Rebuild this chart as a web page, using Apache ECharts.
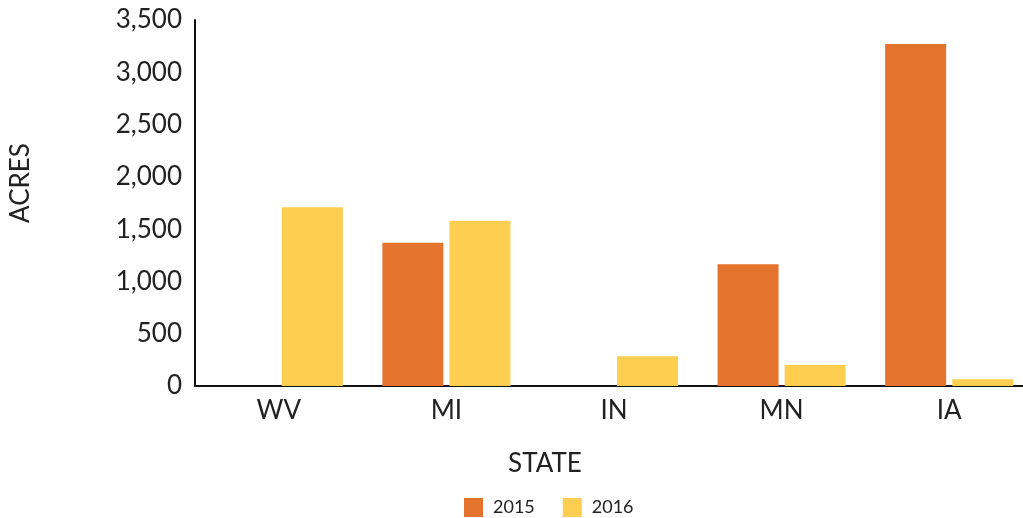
<!DOCTYPE html>
<html>
<head>
<meta charset="utf-8">
<script src="https://cdn.jsdelivr.net/npm/echarts@6/dist/echarts.min.js"></script>
<style>html,body{margin:0;padding:0;background:#fff;}#c{width:1023px;height:518px;}</style>
</head>
<body>
<div id="c"></div>
<script>
const categories = ['WV', 'MI', 'IN', 'MN', 'IA'];
const seriesNames = ['2015', '2016'];
const values2015 = [null, 1370, null, 1165, 3270];
const values2016 = [1710, 1580, 285, 200, 65];
const yTicks = { min: 0, max: 3500, interval: 500 };
const xAxisTitle = 'STATE';
const yAxisTitle = 'ACRES';

const chart = echarts.init(document.getElementById('c'));
const font = 'Lato, "Open Sans", sans-serif';
chart.setOption({
  animation: false,
  backgroundColor: '#fff',
  textStyle: { fontFamily: font },
  grid: { left: 195, width: 838, top: 20, bottom: 132, containLabel: false, outerBoundsMode: 'none' },
  legend: {
    top: 493, left: 459,
    itemWidth: 19, itemHeight: 19, itemGap: 28,
    icon: 'rect',
    textStyle: { fontSize: 18, color: '#222', fontFamily: font, padding: [0, 0, 0, 5] },
    data: seriesNames
  },
  graphic: [
    { type: 'text', x: 545, y: 464,
      style: { text: xAxisTitle, fontSize: 26, fill: '#222', fontFamily: font,
        align: 'center', verticalAlign: 'middle' } },
    { type: 'text', x: 21, y: 183, rotation: Math.PI / 2,
      style: { text: yAxisTitle, fontSize: 26, fill: '#222', fontFamily: font,
        align: 'center', verticalAlign: 'middle' } }
  ],
  xAxis: {
    type: 'category', data: categories,
    axisLine: { lineStyle: { color: '#111', width: 2 } },
    axisTick: { show: false },
    axisLabel: { fontSize: 26, color: '#222', margin: 12, fontFamily: font }
  },
  yAxis: {
    type: 'value', min: yTicks.min, max: yTicks.max, interval: yTicks.interval,
    axisLine: { show: true, lineStyle: { color: '#111', width: 2 } },
    axisTick: { show: false },
    splitLine: { show: false },
    axisLabel: { fontSize: 26, color: '#222', margin: 13, fontFamily: font,
      formatter: v => v.toLocaleString('en-US') }
  },
  series: [
    { name: seriesNames[0], type: 'bar', data: values2015, barWidth: 61, barGap: '10%',
      itemStyle: { color: '#E4732E' } },
    { name: seriesNames[1], type: 'bar', data: values2016, barWidth: 61, barGap: '10%',
      itemStyle: { color: '#FECE50' } }
  ]
});
</script>
</body>
</html>
